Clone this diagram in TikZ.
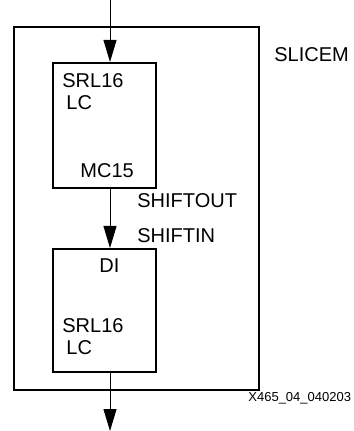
\documentclass[tikz,border=0pt]{standalone}
\usepackage{fontspec}
\setmainfont{Liberation Sans}
\usetikzlibrary{arrows.meta}

\begin{document}
\begin{tikzpicture}[x=0.5pt,y=-0.5pt,
		cell/.style={draw,line width=1pt,inner sep=0pt,minimum width=51.5pt},
		lbl/.style={anchor=base west,inner sep=0pt,font=\fontsize{10}{12}\selectfont},
		link/.style={line width=0.5pt,-{Triangle[length=11pt,width=6.5pt]}}]
	\useasboundingbox (0,0) rectangle (353,431);
	
	\node (slice) [draw,line width=1pt,minimum width=122.5pt,minimum height=181.5pt] at (136.5,208.5) {};
	\node (srlA) [cell,minimum height=62.5pt] at (104.5,125.5) {};
	\node (srlB) [cell,minimum height=61.5pt] at (104.5,310.5) {};
	
	\coordinate (in) at (110,0);
	\coordinate (out) at (110,431);
	
	\draw[link] (in) -- (in |- srlA.north);
	\draw[link] (in |- srlA.south) -- (in |- srlB.north);
	\draw[link] (in |- srlB.south) -- (out);
	
	\node (srlAname) [lbl] at (62,88) {SRL16};
	\node (srlAlc) [lbl] at (66,110) {LC};
	\node (mc) [lbl] at (80,178) {MC15};
	\node (sout) [lbl] at (137,208) {SHIFTOUT};
	\node (sin) [lbl] at (137,243) {SHIFTIN};
	\node (di) [lbl] at (99,272) {DI};
	\node (srlBname) [lbl] at (62,332) {SRL16};
	\node (srlBlc) [lbl] at (66,354) {LC};
	\node (slicename) [lbl] at (274,62) {SLICEM};
	\node (fig) [lbl,font=\fontsize{6.5}{8}\selectfont] at (248,401) {X465\_04\_040203};
\end{tikzpicture}
\end{document}
